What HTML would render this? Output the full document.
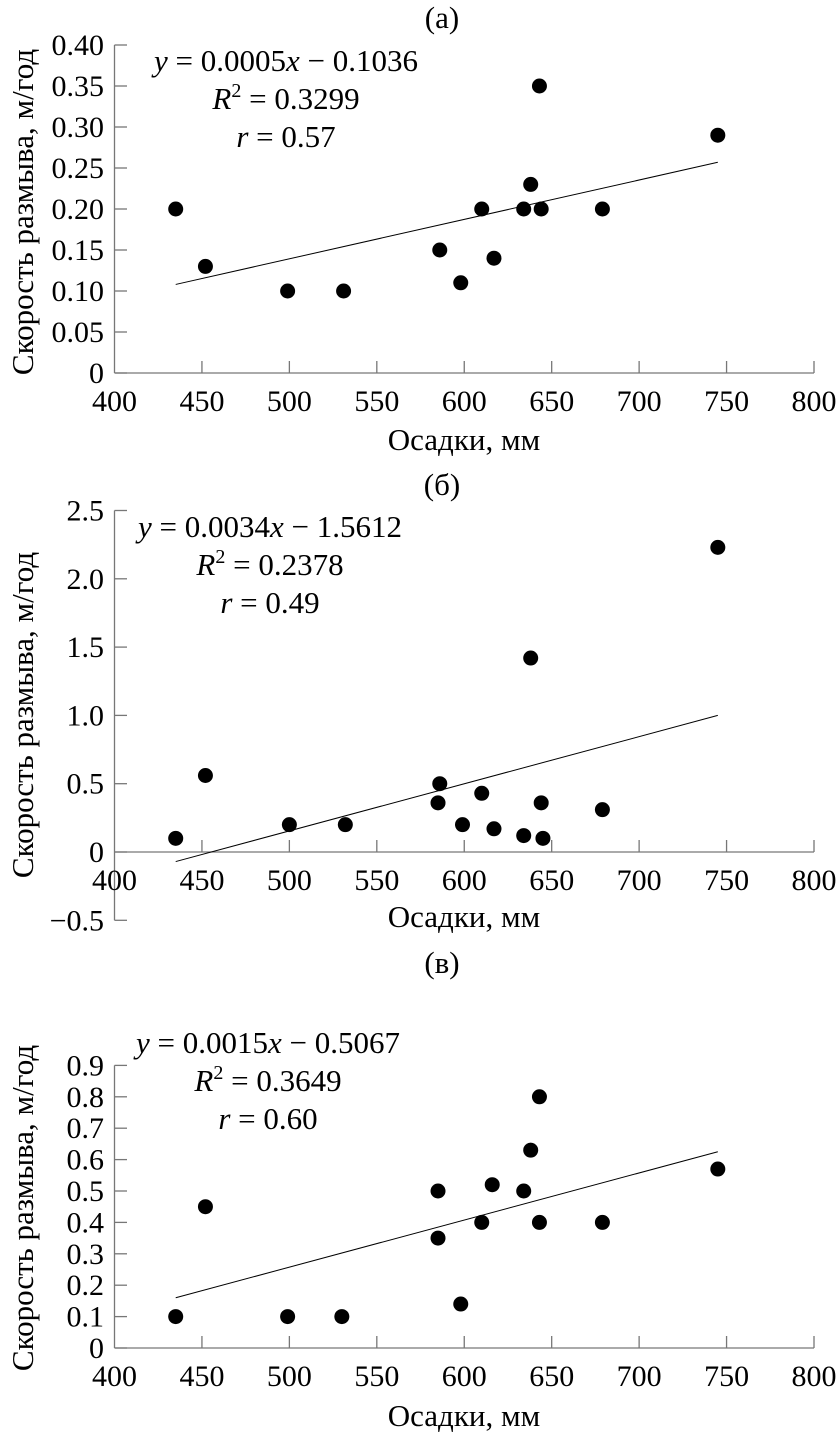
<!DOCTYPE html>
<html><head><meta charset="utf-8"><style>
html,body{margin:0;padding:0;background:#fff}
svg{display:block;font-family:"Liberation Serif","DejaVu Serif",serif}
</style></head><body>
<svg id="chart" width="840" height="1438" viewBox="0 0 840 1438" xmlns="http://www.w3.org/2000/svg"></svg>
<script>
const xTicks=[400,450,500,550,600,650,700,750,800];
const aX=[435,452,499,531,586,598,610,617,634,638,643,644,679,745];
const aY=[0.20,0.13,0.10,0.10,0.15,0.11,0.20,0.14,0.20,0.23,0.35,0.20,0.20,0.29];
const aYTicks=[0,0.05,0.10,0.15,0.20,0.25,0.30,0.35,0.40];
const aYLabels=["0","0.05","0.10","0.15","0.20","0.25","0.30","0.35","0.40"];
const aTrend=[0.108,0.257];
const bX=[435,452,500,532,586,585,610,599,617,634,638,644,645,679,745];
const bY=[0.10,0.56,0.20,0.20,0.50,0.36,0.43,0.20,0.17,0.12,1.42,0.36,0.10,0.31,2.23];
const bYTicks=[-0.5,0,0.5,1.0,1.5,2.0,2.5];
const bYLabels=["\u22120.5","0","0.5","1.0","1.5","2.0","2.5"];
const bTrend=[-0.07,1.0];
const cX=[435,452,499,530,585,585,598,610,616,634,638,643,643,679,745];
const cY=[0.10,0.45,0.10,0.10,0.50,0.35,0.14,0.40,0.52,0.50,0.63,0.80,0.40,0.40,0.57];
const cYTicks=[0,0.1,0.2,0.3,0.4,0.5,0.6,0.7,0.8,0.9];
const cYLabels=["0","0.1","0.2","0.3","0.4","0.5","0.6","0.7","0.8","0.9"];
const cTrend=[0.16,0.625];
const trendX=[435,745];

const svg=document.getElementById('chart');
const NS='http://www.w3.org/2000/svg';
function el(t,a,p){const e=document.createElementNS(NS,t);for(const k in a)e.setAttribute(k,a[k]);(p||svg).appendChild(e);return e;}
const sx=v=>114.5+(v-400)*(699.5/400);

function panel(cfg){
  const g=el('g',{});
  
  
  const y0=cfg.zero, ppu=cfg.ppu;
  const sy=v=>y0-v*ppu;
  const yMin=sy(cfg.yt[0]), yMax=sy(cfg.yt[cfg.yt.length-1]);
  const ax=el('line',{x1:114.5,y1:yMin,x2:114.5,y2:yMax,stroke:'#777','stroke-width':1.3},g);
  
  
  const xx=el('line',{x1:114.5,y1:y0,x2:sx(800),y2:y0,stroke:'#777','stroke-width':1.3},g);
  
  
  cfg.yt.forEach((v,i)=>{
    el('line',{x1:114.5,y1:sy(v),x2:127,y2:sy(v),stroke:'#777','stroke-width':1.3},g);
    const t=el('text',{x:104,y:sy(v)+10,'text-anchor':'end','font-size':30},g);
    
    
    t.textContent=cfg.yl[i];
  });
  xTicks.forEach(v=>{
    if(v>400) el('line',{x1:sx(v),y1:y0,x2:sx(v),y2:y0-12,stroke:'#777','stroke-width':1.3},g);
    const t=el('text',{x:sx(v),y:y0+38,'text-anchor':'middle','font-size':30},g);
    
    
    t.textContent=v;
  });
  const tl=el('line',{x1:sx(trendX[0]),y1:sy(cfg.tr[0]),x2:sx(trendX[1]),y2:sy(cfg.tr[1]),stroke:'#000','stroke-width':1},g);
  
  
  cfg.xs.forEach((x,i)=>{
    const c=el('circle',{cx:sx(x),cy:sy(cfg.ys[i]),r:7.5,fill:'#000'},g);
    
    
  });
  const tt=el('text',{x:442,y:cfg.title,'text-anchor':'middle','font-size':31},g);
  
  
  tt.textContent=cfg.label;
  const xl=el('text',{x:464,y:cfg.xlab,'text-anchor':'middle','font-size':31},g);
  
  
  xl.textContent='Осадки, мм';
  const yc=cfg.ymid;
  const yl=el('text',{x:0,y:0,'text-anchor':'middle','font-size':31,transform:`translate(33,${yc}) rotate(-90)`},g);
  
  
  yl.textContent='Скорость размыва, м/год';
  const eq=el('text',{x:cfg.ex,y:cfg.ey,'text-anchor':'middle','font-size':31},g);
  
  
  eq.innerHTML='<tspan font-style="italic">y</tspan> = '+cfg.eq[0]+'<tspan font-style="italic">x</tspan> \u2212 '+cfg.eq[1];
  const r2=el('text',{x:cfg.ex,y:cfg.ey+38,'text-anchor':'middle','font-size':31},g);
  
  
  r2.innerHTML='<tspan font-style="italic">R</tspan><tspan font-size="20" dy="-12">2</tspan><tspan dy="12"> = '+cfg.eq[2]+'</tspan>';
  const rr=el('text',{x:cfg.ex,y:cfg.ey+76,'text-anchor':'middle','font-size':31},g);
  
  
  rr.innerHTML='<tspan font-style="italic">r</tspan> = '+cfg.eq[3];
}
panel({id:'a',label:'(а)',zero:373,ppu:820,yt:aYTicks,yl:aYLabels,xs:aX,ys:aY,tr:aTrend,title:28,xlab:450,ymid:212,ex:286,ey:71,eq:['0.0005','0.1036','0.3299','0.57']});
panel({id:'b',label:'(б)',zero:852,ppu:136.6,yt:bYTicks,yl:bYLabels,xs:bX,ys:bY,tr:bTrend,title:495,xlab:927,ymid:715,ex:270,ey:537,eq:['0.0034','1.5612','0.2378','0.49']});
panel({id:'c',label:'(в)',zero:1348,ppu:314,yt:cYTicks,yl:cYLabels,xs:cX,ys:cY,tr:cTrend,title:973,xlab:1426,ymid:1208,ex:268,ey:1053,eq:['0.0015','0.5067','0.3649','0.60']});
</script>
</body></html>
